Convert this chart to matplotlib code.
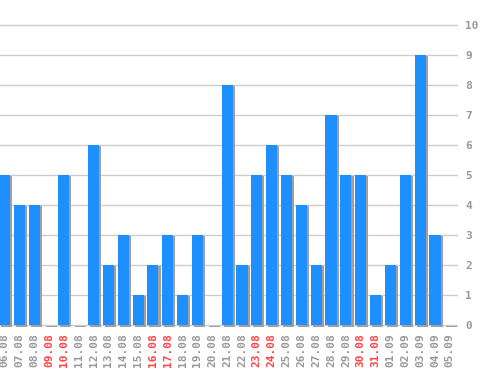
import matplotlib
matplotlib.use("Agg")
import matplotlib.pyplot as plt
import numpy as np

days = ["06.08", "07.08", "08.08", "09.08", "10.08", "11.08", "12.08", "13.08",
        "14.08", "15.08", "16.08", "17.08", "18.08", "19.08", "20.08", "21.08",
        "22.08", "23.08", "24.08", "25.08", "26.08", "27.08", "28.08", "29.08",
        "30.08", "31.08", "01.09", "02.09", "03.09", "04.09", "05.09"]
counts = [5, 4, 4, 0, 5, 0, 6, 2, 3, 1, 2, 3, 1, 3, 0, 8,
          2, 5, 6, 5, 4, 2, 7, 5, 5, 1, 2, 5, 9, 3, 0]
weekend = ["09.08", "10.08", "16.08", "17.08", "23.08", "24.08", "30.08", "31.08"]
yticks = [0, 1, 2, 3, 4, 5, 6, 7, 8, 9, 10]

fig = plt.figure(figsize=(4.98, 3.70), dpi=100)
ax = fig.add_axes([0, 42.0 / 370, 458.0 / 498, 328.0 / 370])

x = np.arange(len(days))
vals = np.array(counts, dtype=float)

# shadow first, then the blue bars on top
ax.bar(x + 0.14, vals + 0.04, bottom=-0.06, width=0.75, color="#a0a0a0", zorder=2)
ax.bar(x, vals, width=0.75, color="#1e8fff", zorder=3)

ax.set_xlim(-0.30, 30.55)
ax.set_ylim(-0.1, 10.83)

ax.set_yticks(yticks)
ax.yaxis.tick_right()
ax.grid(axis="y", color="#cccccc", linewidth=1, zorder=1)
ax.tick_params(axis="y", length=0, pad=5, labelsize=8, labelcolor="#999999")

ax.set_xticks(x)
ax.set_xticklabels(days, rotation=90, fontsize=8)
ax.tick_params(axis="x", length=0, pad=4)
for lbl in ax.get_xticklabels():
    lbl.set_color("#ff4444" if lbl.get_text() in weekend else "#999999")

for lbl in ax.get_xticklabels() + ax.get_yticklabels():
    lbl.set_family("DejaVu Sans Mono")
    lbl.set_fontweight("bold")

for s in ax.spines.values():
    s.set_visible(False)

fig.savefig("out.png", dpi=100)
